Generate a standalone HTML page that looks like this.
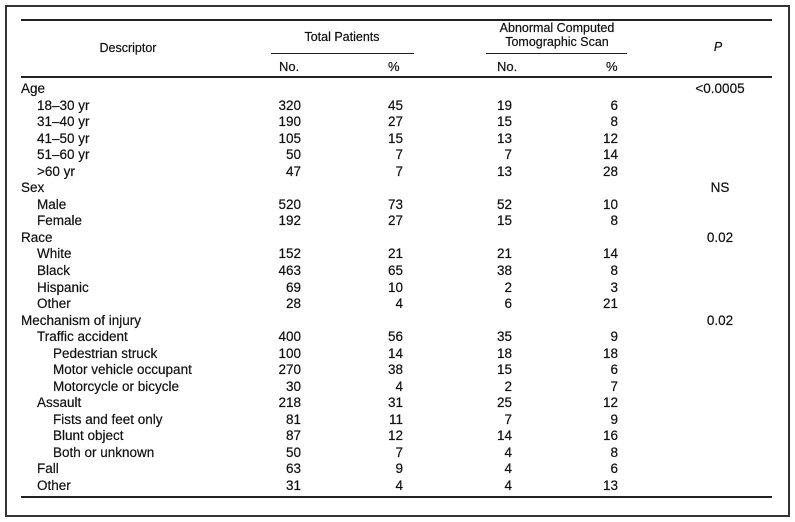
<!DOCTYPE html>
<html>
<head>
<meta charset="utf-8">
<style>
  html, body { margin:0; padding:0; background:#fff; }
  #c { position:relative; width:795px; height:522px; overflow:hidden; background:#fff;
       font-family:"Liberation Sans", Arial, sans-serif; color:#111; -webkit-text-stroke:0.2px #111; }
  .frame { position:absolute; left:5px; top:5px; width:781px; height:508px; border:2px solid #333; }
  .rule { position:absolute; background:#222; }
  .h { position:absolute; font-size:12.5px; line-height:16px; height:16px; white-space:nowrap; }
  .r { position:absolute; left:0; width:795px; height:16px; line-height:16px; font-size:13.5px; white-space:nowrap; }
  .r span { position:absolute; top:0; }
  .l0 { left:21px; }
  .l1 { left:37px; }
  .l2 { left:53px; }
  .c1 { left:241px; width:60px; text-align:right; }
  .c2 { left:343px; width:60px; text-align:right; }
  .c3 { left:452px; width:60px; text-align:right; }
  .c4 { left:558px; width:60px; text-align:right; }
  .c5 { left:660px; width:120px; text-align:center; }
</style>
</head>
<body>
<div id="c">
  <div class="frame"></div>

  <div class="rule" style="left:21px;top:19px;width:751px;height:2px;"></div>
  <div class="rule" style="left:271px;top:53px;width:143px;height:1px;"></div>
  <div class="rule" style="left:486px;top:53px;width:141px;height:1px;"></div>
  <div class="rule" style="left:21px;top:76px;width:751px;height:2px;"></div>
  <div class="rule" style="left:21px;top:496px;width:751px;height:2px;"></div>

  <div class="h" style="left:68px;top:40px;width:120px;text-align:center;">Descriptor</div>
  <div class="h" style="left:272px;top:29px;width:140px;text-align:center;">Total Patients</div>
  <div class="h" style="left:477px;top:20px;width:160px;text-align:center;">Abnormal Computed</div>
  <div class="h" style="left:477px;top:34px;width:160px;text-align:center;">Tomographic Scan</div>
  <div class="h" style="left:698px;top:39px;width:40px;text-align:center;font-style:italic;">P</div>

  <div class="h" style="left:279px;top:59px;font-size:13px;">No.</div>
  <div class="h" style="left:388px;top:59px;font-size:13px;">%</div>
  <div class="h" style="left:497px;top:59px;font-size:13px;">No.</div>
  <div class="h" style="left:606px;top:59px;font-size:13px;">%</div>

  <div class="r" style="top:81px;"><span class="l0">Age</span><span class="c5">&lt;0.0005</span></div>
  <div class="r" style="top:97.5px;"><span class="l1">18–30 yr</span><span class="c1">320</span><span class="c2">45</span><span class="c3">19</span><span class="c4">6</span></div>
  <div class="r" style="top:114.1px;"><span class="l1">31–40 yr</span><span class="c1">190</span><span class="c2">27</span><span class="c3">15</span><span class="c4">8</span></div>
  <div class="r" style="top:130.6px;"><span class="l1">41–50 yr</span><span class="c1">105</span><span class="c2">15</span><span class="c3">13</span><span class="c4">12</span></div>
  <div class="r" style="top:147.2px;"><span class="l1">51–60 yr</span><span class="c1">50</span><span class="c2">7</span><span class="c3">7</span><span class="c4">14</span></div>
  <div class="r" style="top:163.7px;"><span class="l1">&gt;60 yr</span><span class="c1">47</span><span class="c2">7</span><span class="c3">13</span><span class="c4">28</span></div>
  <div class="r" style="top:180.2px;"><span class="l0">Sex</span><span class="c5">NS</span></div>
  <div class="r" style="top:196.8px;"><span class="l1">Male</span><span class="c1">520</span><span class="c2">73</span><span class="c3">52</span><span class="c4">10</span></div>
  <div class="r" style="top:213.3px;"><span class="l1">Female</span><span class="c1">192</span><span class="c2">27</span><span class="c3">15</span><span class="c4">8</span></div>
  <div class="r" style="top:229.9px;"><span class="l0">Race</span><span class="c5">0.02</span></div>
  <div class="r" style="top:246.4px;"><span class="l1">White</span><span class="c1">152</span><span class="c2">21</span><span class="c3">21</span><span class="c4">14</span></div>
  <div class="r" style="top:262.9px;"><span class="l1">Black</span><span class="c1">463</span><span class="c2">65</span><span class="c3">38</span><span class="c4">8</span></div>
  <div class="r" style="top:279.5px;"><span class="l1">Hispanic</span><span class="c1">69</span><span class="c2">10</span><span class="c3">2</span><span class="c4">3</span></div>
  <div class="r" style="top:296px;"><span class="l1">Other</span><span class="c1">28</span><span class="c2">4</span><span class="c3">6</span><span class="c4">21</span></div>
  <div class="r" style="top:312.6px;"><span class="l0">Mechanism of injury</span><span class="c5">0.02</span></div>
  <div class="r" style="top:329.1px;"><span class="l1">Traffic accident</span><span class="c1">400</span><span class="c2">56</span><span class="c3">35</span><span class="c4">9</span></div>
  <div class="r" style="top:345.6px;"><span class="l2">Pedestrian struck</span><span class="c1">100</span><span class="c2">14</span><span class="c3">18</span><span class="c4">18</span></div>
  <div class="r" style="top:362.2px;"><span class="l2">Motor vehicle occupant</span><span class="c1">270</span><span class="c2">38</span><span class="c3">15</span><span class="c4">6</span></div>
  <div class="r" style="top:378.7px;"><span class="l2">Motorcycle or bicycle</span><span class="c1">30</span><span class="c2">4</span><span class="c3">2</span><span class="c4">7</span></div>
  <div class="r" style="top:395.3px;"><span class="l1">Assault</span><span class="c1">218</span><span class="c2">31</span><span class="c3">25</span><span class="c4">12</span></div>
  <div class="r" style="top:411.8px;"><span class="l2">Fists and feet only</span><span class="c1">81</span><span class="c2">11</span><span class="c3">7</span><span class="c4">9</span></div>
  <div class="r" style="top:428.3px;"><span class="l2">Blunt object</span><span class="c1">87</span><span class="c2">12</span><span class="c3">14</span><span class="c4">16</span></div>
  <div class="r" style="top:444.9px;"><span class="l2">Both or unknown</span><span class="c1">50</span><span class="c2">7</span><span class="c3">4</span><span class="c4">8</span></div>
  <div class="r" style="top:461.4px;"><span class="l1">Fall</span><span class="c1">63</span><span class="c2">9</span><span class="c3">4</span><span class="c4">6</span></div>
  <div class="r" style="top:478px;"><span class="l1">Other</span><span class="c1">31</span><span class="c2">4</span><span class="c3">4</span><span class="c4">13</span></div>
</div>
</body>
</html>
